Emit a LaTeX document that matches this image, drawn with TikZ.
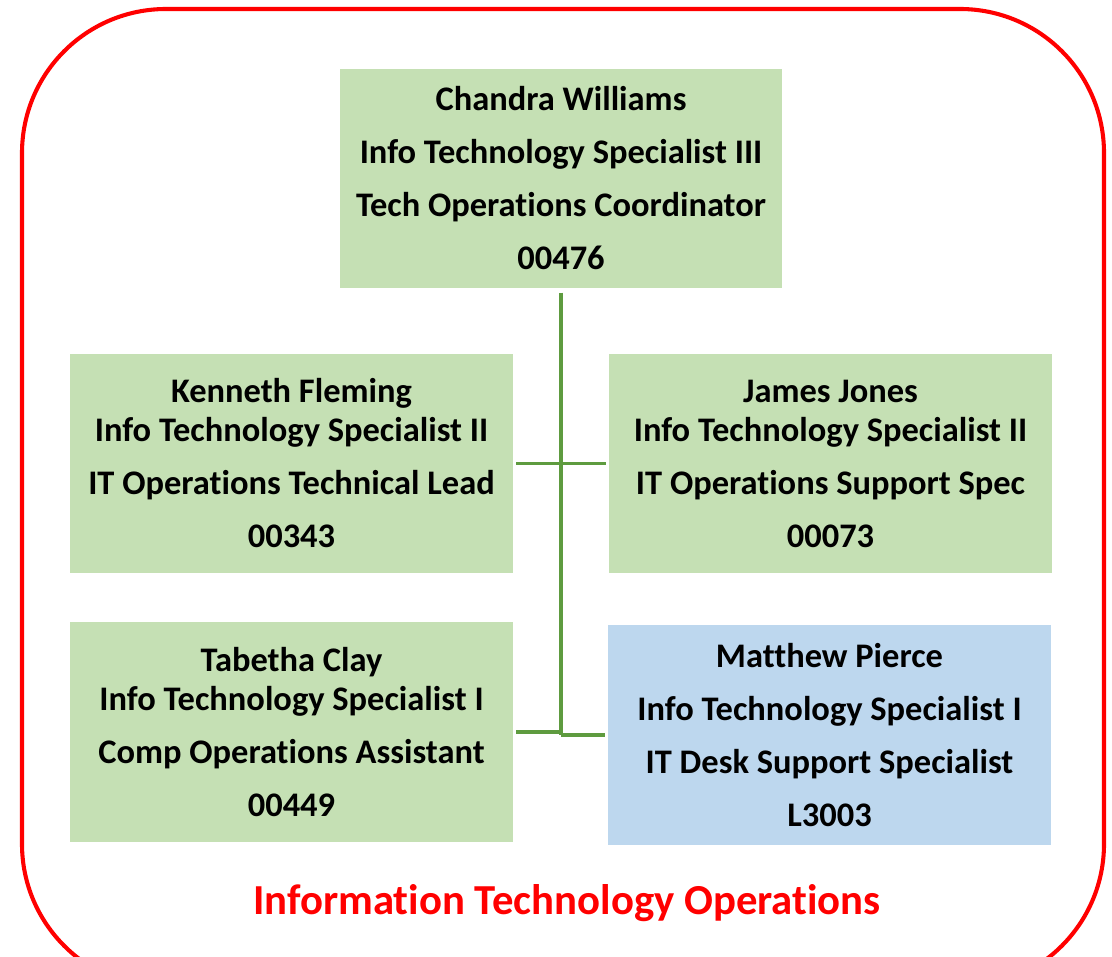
\documentclass[tikz,border=0pt]{standalone}
\usepackage{fontspec}
\setmainfont{Carlito}[Ligatures=CommonOff]
\usetikzlibrary{positioning}

\definecolor{boxgreen}{HTML}{C5E0B4}
\definecolor{boxblue}{HTML}{BDD7EE}
\definecolor{linkgreen}{HTML}{5E9B3F}

\tikzset{
    person/.style={rectangle, fill=boxgreen, minimum width=11.07cm, minimum height=5.48cm,
        inner sep=0pt, align=center, font=\bfseries\fontsize{24.5}{37.7}\selectfont},
    link/.style={linkgreen, line width=2.3pt},
}

\begin{document}
\begin{tikzpicture}[x=0.025cm, y=-0.025cm]
    \clip (0,0) rectangle (1112,957);
    % department frame
    \draw[red, line width=2.9pt, rounded corners=3.6cm] (22,9) rectangle (1104,988);
    \node[text=red, font=\bfseries\fontsize{30.4}{34}\selectfont] (dept) at (567,903) {Information Technology Operations};

    % staff
    \node[person] (chandra) at (561,178.5) {Chandra Williams\\Info Technology Specialist III\\Tech Operations Coordinator\\00476};
    \node[person] (kenneth) at (291.5,463.5) {Kenneth Fleming\\[-10pt]Info Technology Specialist II\\IT Operations Technical Lead\\00343};
    \node[person] (james) at (830.5,463.5) {James Jones\\[-10pt]Info Technology Specialist II\\IT Operations Support Spec\\00073};
    \node[person] (tabetha) at (291.5,732) {Tabetha Clay\\[-10pt]Info Technology Specialist I\\Comp Operations Assistant\\00449};
    \node[person, fill=boxblue] (matthew) at (829.5,735) {Matthew Pierce\\Info Technology Specialist I\\IT Desk Support Specialist\\L3003};

    % connectors
    \coordinate (trunk) at (chandra.south |- matthew.west);
    \draw[link, shorten <=3pt] (chandra.south) -- (trunk);
    \draw[link, shorten <=2pt, shorten >=2pt] (kenneth.east) -- (james.west);
    \draw[link, shorten <=2pt] (tabetha.east) -- (tabetha.east -| trunk);
    \draw[link, shorten >=2pt] (trunk) -- (matthew.west);
\end{tikzpicture}
\end{document}
